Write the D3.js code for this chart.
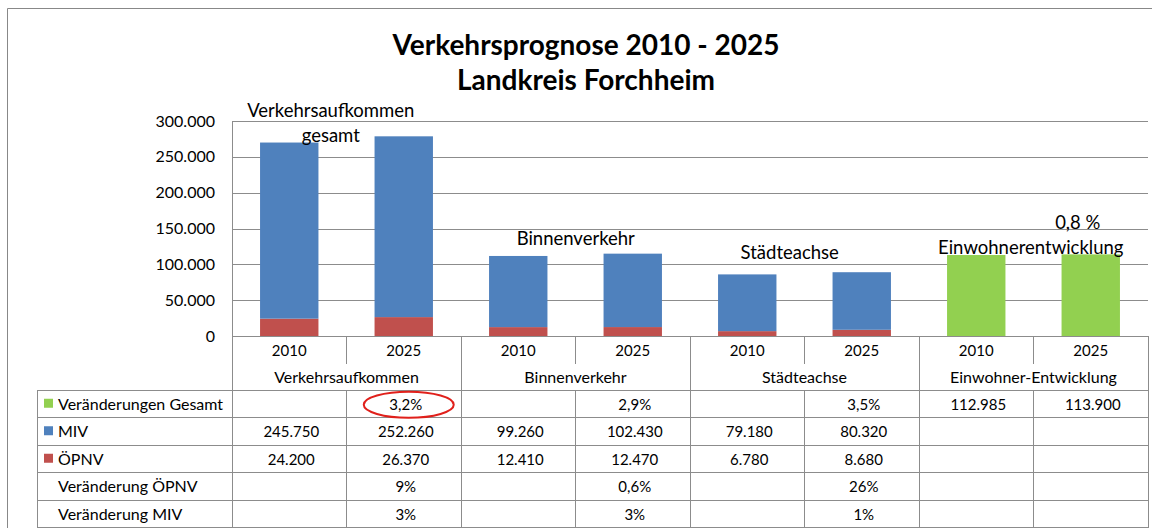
<!DOCTYPE html>
<html>
<head>
<meta charset="utf-8">
<script src="https://cdn.jsdelivr.net/npm/d3@7"></script>
<style>
  body { margin: 0; background: #fff; }
  text { font-family: Lato, "Noto Sans", sans-serif; fill: #000; }
</style>
</head>
<body>
<svg id="chart"></svg>
<script>
var width = 1152;
var height = 528;

// data
var groups = ["Verkehrsaufkommen", "Binnenverkehr", "Städteachse", "Einwohner-Entwicklung"];
var years = ["2010", "2025", "2010", "2025", "2010", "2025", "2010", "2025"];
var gesamt = [null, 0.032, null, 0.029, null, 0.035, 112985, 113900];
var miv = [245750, 252260, 99260, 102430, 79180, 80320, null, null];
var oepnv = [24200, 26370, 12410, 12470, 6780, 8680, null, null];
var verOepnv = [null, 0.09, null, 0.006, null, 0.26, null, null];
var verMiv = [null, 0.03, null, 0.03, null, 0.01, null, null];
var rowNames = ["Veränderungen Gesamt", "MIV", "ÖPNV", "Veränderung ÖPNV", "Veränderung MIV"];
var rowColors = ["#92D050", "#4F81BD", "#C0504D", null, null];
var yTicks = [0, 50000, 100000, 150000, 200000, 250000, 300000];
var notes = [
  {lines: ["Verkehrsaufkommen", "gesamt"], at: 1, dx: -73, y: 110},
  {lines: ["Binnenverkehr"], at: 3, dx: -57, y: 238},
  {lines: ["Städteachse"], at: 5, dx: -72, y: 252},
  {lines: ["0,8 %"], at: 7, dx: -13, y: 222},
  {lines: ["Einwohnerentwicklung"], at: 7, dx: -60, y: 247}
];

var de = d3.formatLocale({decimal: ",", thousands: ".", grouping: [3], currency: ["", " €"]});
var fmtNum = de.format(",.0f");
var fmtPct = de.format(".1~%");
function fmt(v) {
  if (v == null) return "";
  return v < 1 ? fmtPct(v) : fmtNum(v);
}

var plotLeft = 232, plotRight = 1148, plotTop = 121, plotBottom = 336;
var tableLeft = 37;
var rowTop = 390, rowH = 27.5;
var grid = "#8c8c8c";

var svg = d3.select("#chart")
  .attr("width", width)
  .attr("height", height);

// chart frame
svg.append("path")
  .attr("d", "M7.5," + height + "V8.5H" + width)
  .attr("fill", "none")
  .attr("stroke", "#888");

svg.append("text")
  .attr("x", 586)
  .attr("y", 55)
  .attr("text-anchor", "middle")
  .style("font-size", "28px")
  .style("font-weight", "bold")
  .text("Verkehrsprognose 2010 - 2025");

svg.append("text")
  .attr("x", 586)
  .attr("y", 90)
  .attr("text-anchor", "middle")
  .style("font-size", "28px")
  .style("font-weight", "bold")
  .text("Landkreis Forchheim");

var x = d3.scaleBand()
  .domain(d3.range(years.length))
  .range([plotLeft, plotRight])
  .paddingInner(0.49)
  .paddingOuter(0.245);

var y = d3.scaleLinear()
  .domain([0, 300000])
  .range([plotBottom, plotTop]);

// y axis with gridlines
var yAxis = svg.append("g")
  .attr("transform", "translate(" + plotLeft + ",0)")
  .call(d3.axisLeft(y)
    .tickValues(yTicks)
    .tickSize(-(plotRight - plotLeft))
    .tickPadding(17)
    .tickFormat(fmtNum));

yAxis.select(".domain").remove();
yAxis.selectAll("line").attr("stroke", grid).attr("shape-rendering", "crispEdges");
yAxis.selectAll("text")
  .style("font-size", "16px")
  .style("font-family", "Lato, sans-serif")
  .attr("fill", "#222");

// stacked bars
var rows = years.map(function(d, i) {
  return {i: i, oepnv: oepnv[i] || 0, miv: miv[i] || 0, gesamt: gesamt[i] || 0};
});
var keys = ["oepnv", "miv", "gesamt"];
var keyColors = {oepnv: "#C0504D", miv: "#4F81BD", gesamt: "#92D050"};
var stacked = d3.stack().keys(keys)(rows);

svg.append("g")
  .selectAll("g")
  .data(stacked)
  .join("g")
  .attr("fill", function(s) { return keyColors[s.key]; })
  .selectAll("rect")
  .data(function(s) { return s; })
  .join("rect")
  .attr("x", function(d) { return x(d.data.i); })
  .attr("width", x.bandwidth())
  .attr("y", function(d) { return y(d[1]); })
  .attr("height", function(d) { return y(d[0]) - y(d[1]); });

// notes on the chart
notes.forEach(function(n) {
  var cx = x(n.at) + x.bandwidth() / 2 + n.dx;
  n.lines.forEach(function(line, k) {
    svg.append("text")
      .attr("x", cx)
      .attr("y", n.y + k * 25 + 7)
      .attr("text-anchor", "middle")
      .style("font-size", "18.5px")
      .text(line);
  });
});

// category axis + data table
var step = x.step();
var tableBottom = rowTop + rowH * rowNames.length;
var lines = svg.append("g")
  .attr("stroke", grid)
  .attr("shape-rendering", "crispEdges");

lines.append("line")
  .attr("x1", plotLeft).attr("x2", plotRight)
  .attr("y1", plotBottom).attr("y2", plotBottom);

lines.append("line")
  .attr("x1", plotLeft).attr("x2", plotLeft)
  .attr("y1", plotTop).attr("y2", tableBottom);

d3.range(rowNames.length + 1).forEach(function(r) {
  lines.append("line")
    .attr("x1", tableLeft).attr("x2", plotRight)
    .attr("y1", rowTop + r * rowH).attr("y2", rowTop + r * rowH);
});

lines.append("line")
  .attr("x1", tableLeft).attr("x2", tableLeft)
  .attr("y1", rowTop).attr("y2", tableBottom);

d3.range(1, years.length + 1).forEach(function(i) {
  var xx = plotLeft + i * step;
  if (i % 2 === 0) {
    lines.append("line")
      .attr("x1", xx).attr("x2", xx)
      .attr("y1", plotBottom).attr("y2", tableBottom);
  } else {
    lines.append("line")
      .attr("x1", xx).attr("x2", xx)
      .attr("y1", plotBottom).attr("y2", plotBottom + 28);
    lines.append("line")
      .attr("x1", xx).attr("x2", xx)
      .attr("y1", rowTop).attr("y2", tableBottom);
  }
});

svg.append("g")
  .selectAll("text")
  .data(years)
  .join("text")
  .attr("x", function(d, i) { return x(i) + x.bandwidth() / 2; })
  .attr("y", plotBottom + 20)
  .attr("text-anchor", "middle")
  .style("font-size", "15px")
  .text(function(d) { return d; });

svg.append("g")
  .selectAll("text")
  .data(groups)
  .join("text")
  .attr("x", function(d, i) { return plotLeft + (i * 2 + 1) * step; })
  .attr("y", plotBottom + 47)
  .attr("text-anchor", "middle")
  .style("font-size", "16px")
  .text(function(d) { return d; });

var tableData = [gesamt, miv, oepnv, verOepnv, verMiv];

rowNames.forEach(function(name, r) {
  var ty = rowTop + r * rowH + rowH / 2 + 6;
  if (rowColors[r]) {
    svg.append("rect")
      .attr("x", 44)
      .attr("y", ty - 11)
      .attr("width", 9)
      .attr("height", 9)
      .attr("fill", rowColors[r]);
  }
  svg.append("text")
    .attr("x", 58)
    .attr("y", ty)
    .style("font-size", "16px")
    .text(name);

  svg.append("g")
    .selectAll("text")
    .data(tableData[r])
    .join("text")
    .attr("x", function(d, i) { return x(i) + x.bandwidth() / 2 + 2; })
    .attr("y", ty)
    .attr("text-anchor", "middle")
    .style("font-size", "15px")
    .text(function(d) { return fmt(d); });
});

// red highlight around the total change
svg.append("ellipse")
  .attr("cx", x(1) + x.bandwidth() / 2 + 5)
  .attr("cy", rowTop + rowH / 2 + 1)
  .attr("rx", 45)
  .attr("ry", 13)
  .attr("fill", "none")
  .attr("stroke", "#e0201b")
  .attr("stroke-width", 2);
</script>
</body>
</html>
